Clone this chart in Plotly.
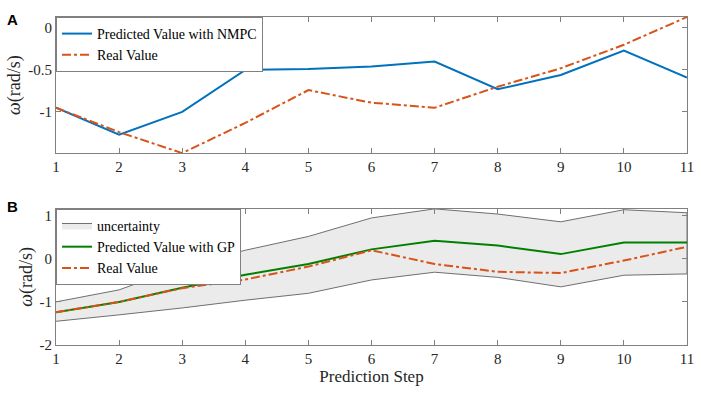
import plotly.graph_objects as go
from plotly.subplots import make_subplots

steps = [1, 2, 3, 4, 5, 6, 7, 8, 9, 10, 11]

# Panel A
nmpc_pred = [-0.95, -1.27, -1.00, -0.50, -0.49, -0.46, -0.40, -0.73, -0.56, -0.27, -0.59]
real_a = [-0.95, -1.24, -1.49, -1.13, -0.74, -0.89, -0.95, -0.70, -0.48, -0.20, 0.13]

# Panel B
gp_upper = [-1.00, -0.72, -0.19, 0.20, 0.52, 0.95, 1.16, 1.04, 0.86, 1.14, 1.07]
gp_lower = [-1.45, -1.30, -1.14, -0.96, -0.80, -0.49, -0.31, -0.43, -0.65, -0.38, -0.35]
gp_pred = [-1.24, -1.00, -0.67, -0.37, -0.12, 0.22, 0.42, 0.31, 0.11, 0.38, 0.38]
real_b = [-1.24, -1.00, -0.68, -0.48, -0.18, 0.20, -0.12, -0.30, -0.33, -0.04, 0.28]

ytick_a = [0, -0.5, -1]
ytick_a_text = ["0", "-0.5", "-1"]
ytick_b = [1, 0, -1, -2]
ytick_b_text = ["1", "0", "-1", "-2"]

BLUE = "#0072BD"
RED = "#D95319"
GREEN = "#008000"
AX = "#808080"
TXT = "#262626"
SERIF = "Liberation Serif"

fig = make_subplots(rows=2, cols=1, vertical_spacing=0.17)

fig.add_trace(go.Scatter(x=steps, y=nmpc_pred, mode="lines", name="Predicted Value with NMPC",
                         line=dict(color=BLUE, width=2), legend="legend"), row=1, col=1)
fig.add_trace(go.Scatter(x=steps, y=real_a, mode="lines", name="Real Value",
                         line=dict(color=RED, width=2, dash="dashdot"), legend="legend"), row=1, col=1)

poly_x = steps + steps[::-1]
poly_y = gp_upper + gp_lower[::-1]
fig.add_trace(go.Scatter(x=poly_x, y=poly_y, mode="lines", fill="toself", name="uncertainty",
                         fillcolor="#EBEBEB", line=dict(color="#6f6f6f", width=1),
                         legend="legend2"), row=2, col=1)
fig.add_trace(go.Scatter(x=steps, y=gp_pred, mode="lines", name="Predicted Value with GP",
                         line=dict(color=GREEN, width=2), legend="legend2"), row=2, col=1)
fig.add_trace(go.Scatter(x=steps, y=real_b, mode="lines", name="Real Value",
                         line=dict(color=RED, width=2, dash="dashdot"), legend="legend2"), row=2, col=1)

axis_common = dict(showline=True, linecolor=AX, linewidth=1, mirror="ticks", ticks="inside",
                   tickcolor=AX, ticklen=5, showgrid=False, zeroline=False,
                   ticklabeloverflow="allow",
                   tickfont=dict(family=SERIF, size=15, color=TXT))

fig.update_xaxes(range=[1, 11], tickvals=steps, **axis_common)
fig.update_yaxes(**axis_common)

fig.update_yaxes(range=[-1.49, 0.13], tickvals=ytick_a, ticktext=ytick_a_text, domain=[0.585, 1.0],
                 title=dict(text="<i>ω</i>(rad/s)", font=dict(family=SERIF, size=18, color=TXT), standoff=2),
                 row=1, col=1)
fig.update_yaxes(range=[-2, 1.16], tickvals=ytick_b, ticktext=ytick_b_text, domain=[0.0, 0.415],
                 title=dict(text="<i>ω</i>(rad/s)", font=dict(family=SERIF, size=18, color=TXT), standoff=2),
                 row=2, col=1)
fig.update_xaxes(title=dict(text="Prediction Step", font=dict(family=SERIF, size=17, color=TXT), standoff=4),
                 row=2, col=1)

legend_common = dict(xref="paper", yref="paper", xanchor="left", yanchor="top", bgcolor="white",
                     bordercolor=AX, borderwidth=1, font=dict(family=SERIF, size=14, color="black"),
                     tracegroupgap=0, itemwidth=30)
fig.update_layout(
    legend=dict(x=0.0, y=1.0, **legend_common),
    legend2=dict(x=0.0, y=0.415, **legend_common),
)

fig.add_annotation(text="<b>A</b>", xref="paper", yref="paper", x=-0.081, y=1.025,
                   xanchor="left", yanchor="top", showarrow=False,
                   font=dict(family="Liberation Sans", size=15, color="black"))
fig.add_annotation(text="<b>B</b>", xref="paper", yref="paper", x=-0.081, y=0.455,
                   xanchor="left", yanchor="top", showarrow=False,
                   font=dict(family="Liberation Sans", size=15, color="black"))

fig.update_layout(width=704, height=396, margin=dict(l=56, r=10, t=17, b=51),
                  font=dict(family=SERIF, color=TXT),
                  plot_bgcolor="white", paper_bgcolor="white", showlegend=True)

fig.write_html("out.html", config={"displayModeBar": False},
               post_script="document.body.style.margin='0';document.body.style.overflow='hidden';")
